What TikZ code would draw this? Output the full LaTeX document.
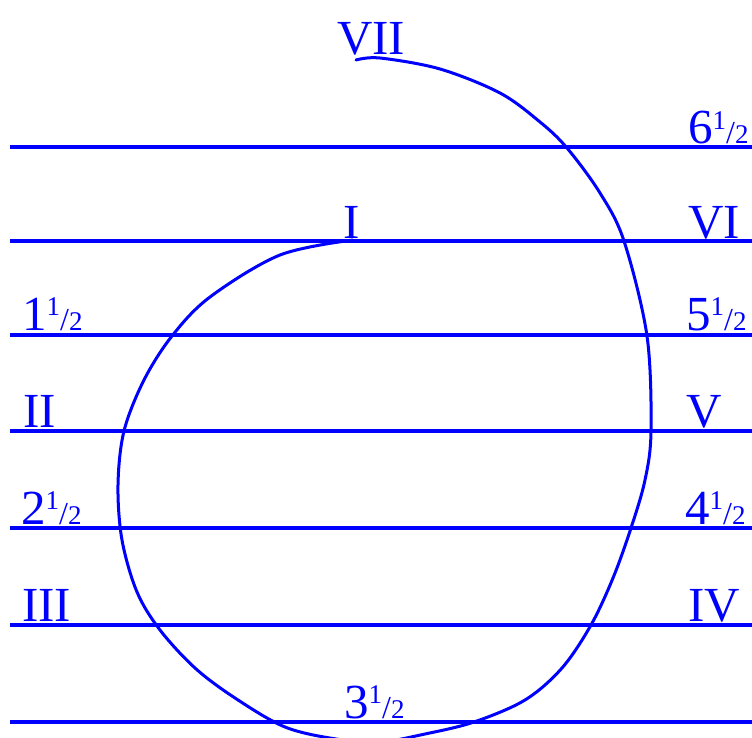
\documentclass[tikz,border=0pt]{standalone}
\usepackage{fontspec}
\setmainfont{Liberation Serif}
\usepackage{graphicx}
\definecolor{lblue}{RGB}{0,0,255}
\newcommand{\hf}{\raisebox{14.8pt}{\fontsize{27}{27}\selectfont 1}{\fontsize{32}{32}\selectfont /}{\fontsize{27}{27}\selectfont 2}}
\tikzset{
  hline/.style={draw=lblue, line width=3.1pt},
  spiral/.style={draw=lblue, line width=3pt, line join=round, line cap=round},
  lab/.style={text=lblue, inner sep=0pt, anchor=base west, font=\fontsize{49}{55}\selectfont}
}
\begin{document}
\begin{tikzpicture}[x=1pt,y=-1pt]
\useasboundingbox (0,0) rectangle (752,738);
% horizontal lines
\foreach \n/\y in {a/147,b/241,c/335,d/431,e/528,f/625,g/722}{
  \coordinate (L\n) at (10,\y);
  \coordinate (R\n) at (752,\y);
  \draw[hline] (L\n) -- (R\n);
}
% spiral curve
\draw[spiral] plot[smooth, tension=0.55] coordinates {
 (353,240) (280,255) (210,297) (172,336) (144,380) (124,431) (118,485)
 (122,540) (137,592) (160,630) (195,668) (235,698) (285,727)
 (336,739) (380,742) (425,734) (474,722) (525,700) (562,668) (591,625)
 (613,578) (631,528) (645,480) (651,431) (647,336) (624,241) (600,193)
 (567,148) (540,122) (500,93) (440,69) (380,58) (356,60)};
% labels
\node[lab] (l7) at (337,55) {VII};
\node[lab] (l65) at (688,144) {6\hf};
\node[lab] (l1) at (343,238) {I};
\node[lab] (l6) at (688,238) {VI};
\node[lab] (l15) at (22,330) {1\hf};
\node[lab] (l55) at (686,330) {5\hf};
\node[lab] (l2) at (23,427) {II};
\node[lab] (l5) at (686,427) {V};
\node[lab] (l25) at (21,524) {2\hf};
\node[lab] (l45) at (685,524) {4\hf};
\node[lab] (l3) at (22,621) {III};
\node[lab] (l4) at (688,621) {IV};
\node[lab] (l35) at (344,718) {3\hf};
\end{tikzpicture}
\end{document}
